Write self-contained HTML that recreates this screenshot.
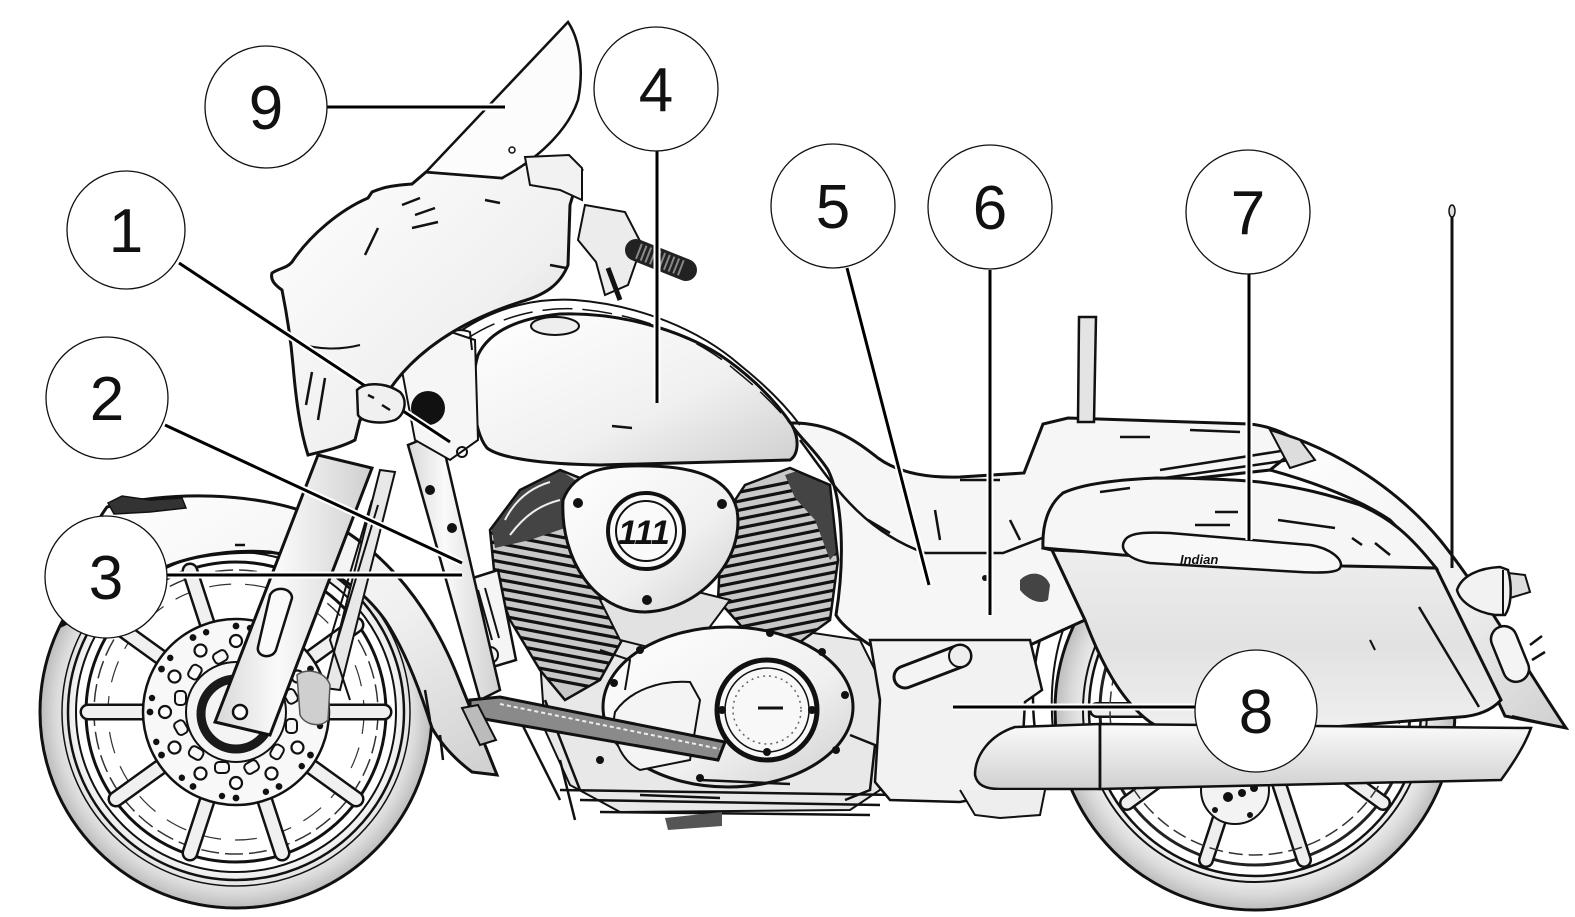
<!DOCTYPE html>
<html><head><meta charset="utf-8"><style>
html,body{margin:0;padding:0;background:#fff;}
svg{display:block}
text{font-family:"Liberation Sans",Arial,sans-serif}
</style></head><body>
<svg width="1575" height="917" viewBox="0 0 1575 917" xmlns="http://www.w3.org/2000/svg">
<defs>
<radialGradient id="tireF" cx="0.5" cy="0.5" r="0.5">
 <stop offset="0.83" stop-color="#f2f2f2"/><stop offset="0.92" stop-color="#dadada"/><stop offset="1" stop-color="#bcbcbc"/>
</radialGradient>
<linearGradient id="lg1" x1="0" y1="0" x2="1" y2="1">
 <stop offset="0" stop-color="#ffffff"/><stop offset="0.6" stop-color="#f0f0f0"/><stop offset="1" stop-color="#cfcfcf"/>
</linearGradient>
<linearGradient id="lgv" x1="0" y1="0" x2="0" y2="1">
 <stop offset="0" stop-color="#fbfbfb"/><stop offset="1" stop-color="#d0d0d0"/>
</linearGradient>
<linearGradient id="lgbag" x1="0" y1="0" x2="0" y2="1">
 <stop offset="0" stop-color="#eeeeee"/><stop offset="0.5" stop-color="#e2e2e2"/><stop offset="1" stop-color="#f0f0f0"/>
</linearGradient>
<linearGradient id="fork" x1="0" y1="0" x2="1" y2="0">
 <stop offset="0" stop-color="#d8d8d8"/><stop offset="0.4" stop-color="#fafafa"/><stop offset="1" stop-color="#cfcfcf"/>
</linearGradient>
<clipPath id="cylF"><polygon points="490,530 520,490 560,470 585,480 605,540 622,640 600,680 565,700 540,670 510,620 495,580"/></clipPath>
<clipPath id="cylR"><polygon points="722,520 745,485 790,468 830,485 838,560 830,620 800,642 750,636 718,600"/></clipPath>
<g id="hs">
 <circle cx="322" cy="712" r="3.4" fill="#111"/>
 <circle cx="320" cy="726" r="3.2" fill="#111"/>
 <circle cx="307" cy="712" r="6" fill="#fff" stroke="#111" stroke-width="2.2"/>
 <rect x="286" y="719" width="11" height="14" rx="4" fill="none" stroke="#111" stroke-width="2"/>
</g>
</defs>

<!-- ===== REAR WHEEL ===== -->
<g>
 <circle cx="1255" cy="710" r="200" fill="url(#tireF)" stroke="#111" stroke-width="3"/>
 <circle cx="1255" cy="710" r="172" fill="none" stroke="#111" stroke-width="2"/>
 <circle cx="1255" cy="710" r="166" fill="#fff" stroke="#111" stroke-width="2.5"/>
 <circle cx="1255" cy="710" r="155" fill="#fff" stroke="#222" stroke-width="3"/>
 <g stroke-linecap="round">
  <g stroke="#111" stroke-width="16">
   <line x1="1297" y1="710" x2="1413" y2="710"/><line x1="1289" y1="735" x2="1383" y2="803"/>
   <line x1="1268" y1="750" x2="1304" y2="860"/><line x1="1242" y1="750" x2="1206" y2="860"/>
   <line x1="1221" y1="735" x2="1127" y2="803"/><line x1="1213" y1="710" x2="1097" y2="710"/>
  </g>
  <g stroke="#eeeeee" stroke-width="11">
   <line x1="1297" y1="710" x2="1413" y2="710"/><line x1="1289" y1="735" x2="1383" y2="803"/>
   <line x1="1268" y1="750" x2="1304" y2="860"/><line x1="1242" y1="750" x2="1206" y2="860"/>
   <line x1="1221" y1="735" x2="1127" y2="803"/><line x1="1213" y1="710" x2="1097" y2="710"/>
  </g>
 </g>
 <circle cx="1255" cy="710" r="145" fill="none" stroke="#333" stroke-width="1.5" stroke-dasharray="14 6"/>
 <circle cx="1235" cy="790" r="34" fill="#f3f3f3" stroke="#111" stroke-width="2"/>
 <circle cx="1228" cy="797" r="5" fill="#111"/><circle cx="1242" cy="793" r="4" fill="#111"/><circle cx="1254" cy="788" r="4" fill="#111"/>
 <circle cx="1215" cy="810" r="3" fill="#111"/><circle cx="1250" cy="815" r="3" fill="#111"/>
 <path d="M1062,590 C1035,630 1025,690 1040,760" fill="none" stroke="#111" stroke-width="2.5"/>
 <path d="M1078,598 C1052,640 1046,700 1057,760" fill="none" stroke="#111" stroke-width="2"/>
</g>

<!-- ===== REAR FENDER ===== -->
<path d="M1270,430 C1340,450 1400,492 1440,540 C1482,592 1522,662 1566,728 L1505,716 L1436,568 L1390,520 C1360,500 1320,484 1270,470 Z" fill="url(#lg1)" stroke="#111" stroke-width="3"/>
<path d="M1512,716 L1566,728 L1548,700" fill="none" stroke="#111" stroke-width="2"/>

<!-- ===== REAR BODY / SEAT ===== -->
<path d="M790,423 C830,422 855,440 878,458 C900,474 930,478 960,477 L1024,473 L1043,424 L1068,418 L1250,424 C1275,427 1293,436 1300,446 L1270,470 L1063,493 L1043,548 L1052,550 L1085,620 L1030,645 L870,645 C850,632 840,622 836,615 C845,560 843,500 828,470 C815,450 800,438 790,423 Z" fill="#f6f6f6" stroke="#111" stroke-width="3"/>
<path d="M800,440 C830,480 860,530 925,553 L1003,553 L1050,535" fill="none" stroke="#111" stroke-width="2.5"/>
<path d="M1024,473 L1043,424" fill="none" stroke="#111" stroke-width="2.5"/>
<g stroke="#111" stroke-width="2.5" fill="none">
 <path d="M868,520 L890,533"/><path d="M935,510 L940,540"/><path d="M960,480 L1000,480"/><path d="M1120,437 L1150,437"/><path d="M1190,430 L1240,432"/>
 <path d="M1160,470 L1300,448"/><path d="M1150,480 L1290,460"/><path d="M1010,520 L1020,540"/>
</g>
<path d="M1270,430 L1300,440 L1315,460 L1290,468 Z" fill="#ddd" stroke="#111" stroke-width="2"/>
<!-- sissy bar -->
<path d="M1079,317 L1096,317 L1094,422 L1078,422 Z" fill="#e4e4e4" stroke="#111" stroke-width="2.5"/>

<!-- ===== FRONT WHEEL ===== -->
<g>
 <circle cx="236" cy="712" r="196" fill="url(#tireF)" stroke="#111" stroke-width="3"/>
 <circle cx="236" cy="712" r="174" fill="none" stroke="#111" stroke-width="1.5"/>
 <circle cx="236" cy="712" r="168" fill="none" stroke="#111" stroke-width="2.5"/>
 <circle cx="236" cy="712" r="160" fill="#fff" stroke="#111" stroke-width="2"/>
 <circle cx="236" cy="712" r="150" fill="#fff" stroke="#111" stroke-width="3"/>
 <circle cx="236" cy="712" r="142" fill="none" stroke="#333" stroke-width="1.5" stroke-dasharray="18 6"/>
 <circle cx="236" cy="712" r="128" fill="none" stroke="#333" stroke-width="1.2" stroke-dasharray="22 14"/>
 <g stroke-linecap="round">
  <g stroke="#111" stroke-width="17">
   <line x1="278" y1="712" x2="384" y2="712"/><line x1="270" y1="737" x2="356" y2="799"/>
   <line x1="249" y1="752" x2="282" y2="853"/><line x1="223" y1="752" x2="190" y2="853"/>
   <line x1="202" y1="737" x2="116" y2="799"/><line x1="194" y1="712" x2="88" y2="712"/>
   <line x1="202" y1="687" x2="116" y2="625"/><line x1="223" y1="672" x2="190" y2="571"/>
   <line x1="249" y1="672" x2="282" y2="571"/><line x1="270" y1="687" x2="356" y2="625"/>
  </g>
  <g stroke="#f0f0f0" stroke-width="12">
   <line x1="278" y1="712" x2="384" y2="712"/><line x1="270" y1="737" x2="356" y2="799"/>
   <line x1="249" y1="752" x2="282" y2="853"/><line x1="223" y1="752" x2="190" y2="853"/>
   <line x1="202" y1="737" x2="116" y2="799"/><line x1="194" y1="712" x2="88" y2="712"/>
   <line x1="202" y1="687" x2="116" y2="625"/><line x1="223" y1="672" x2="190" y2="571"/>
   <line x1="249" y1="672" x2="282" y2="571"/><line x1="270" y1="687" x2="356" y2="625"/>
  </g>
 </g>
 <!-- disc -->
 <circle cx="236" cy="712" r="93" fill="#f8f8f8" stroke="#111" stroke-width="2.5"/>
 <use href="#hs"/>
 <use href="#hs" transform="rotate(30 236 712)"/><use href="#hs" transform="rotate(60 236 712)"/>
 <use href="#hs" transform="rotate(90 236 712)"/><use href="#hs" transform="rotate(120 236 712)"/>
 <use href="#hs" transform="rotate(150 236 712)"/><use href="#hs" transform="rotate(180 236 712)"/>
 <use href="#hs" transform="rotate(210 236 712)"/><use href="#hs" transform="rotate(240 236 712)"/>
 <use href="#hs" transform="rotate(270 236 712)"/><use href="#hs" transform="rotate(300 236 712)"/>
 <use href="#hs" transform="rotate(330 236 712)"/>
 <circle cx="236" cy="712" r="50" fill="#f4f4f4" stroke="#111" stroke-width="2"/>
 <circle cx="236" cy="714" r="35" fill="none" stroke="#1a1a1a" stroke-width="9"/>
</g>

<!-- front fender -->
<path d="M63,625 C75,570 90,530 107,507 C160,492 260,488 330,522 C390,555 430,610 455,670 L497,775 L472,772 C452,757 440,742 432,728 C420,690 405,650 385,620 C360,585 320,560 270,552 C220,548 170,560 140,580 C110,600 85,615 63,625 Z" fill="url(#lg1)" stroke="#111" stroke-width="3"/>
<path d="M108,503 L122,496 L150,500 L182,498 L186,508 L150,512 L114,514 Z" fill="#333" stroke="#111" stroke-width="1.5"/>
<path d="M170,565 C210,550 270,550 316,557" fill="none" stroke="#111" stroke-width="2.5"/>
<g stroke="#111" stroke-width="2.5"><line x1="425" y1="690" x2="430" y2="720"/><line x1="440" y1="735" x2="443" y2="760"/><line x1="235" y1="545" x2="245" y2="545"/></g>

<!-- ===== ENGINE ===== -->
<path d="M540,660 L600,615 L660,625 L700,640 L760,625 L860,640 L885,690 L880,790 L850,810 L620,812 L570,785 L545,730 Z" fill="#e8e8e8" stroke="#111" stroke-width="2"/>
<!-- front cylinder -->
<g clip-path="url(#cylF)">
 <rect x="480" y="460" width="150" height="250" fill="#c8c8c8"/>
 <g stroke="#111" stroke-width="3.2">
  <line x1="470" y1="520" x2="640" y2="552"/><line x1="470" y1="529" x2="640" y2="561"/><line x1="470" y1="538" x2="640" y2="570"/>
  <line x1="470" y1="547" x2="640" y2="579"/><line x1="470" y1="556" x2="640" y2="588"/><line x1="470" y1="565" x2="640" y2="597"/>
  <line x1="470" y1="574" x2="640" y2="606"/><line x1="470" y1="583" x2="640" y2="615"/><line x1="470" y1="592" x2="640" y2="624"/>
  <line x1="470" y1="601" x2="640" y2="633"/><line x1="470" y1="610" x2="640" y2="642"/><line x1="470" y1="619" x2="640" y2="651"/>
  <line x1="470" y1="628" x2="640" y2="660"/><line x1="470" y1="637" x2="640" y2="669"/><line x1="470" y1="646" x2="640" y2="678"/>
  <line x1="470" y1="655" x2="640" y2="687"/><line x1="470" y1="664" x2="640" y2="696"/>
 </g>
 <path d="M490,520 L505,490 L535,472 L560,470 L578,482 L565,528 L530,540 L495,548 Z" fill="#444"/>
 <g stroke="#eee" stroke-width="2" fill="none"><path d="M505,520 C515,500 530,488 550,482"/><path d="M510,535 C525,515 540,505 560,500"/></g>
</g>
<polygon points="490,530 520,490 560,470 585,480 605,540 622,640 600,680 565,700 540,670 510,620 495,580" fill="none" stroke="#111" stroke-width="2.5"/>
<!-- rear cylinder -->
<g clip-path="url(#cylR)">
 <rect x="710" y="460" width="140" height="200" fill="#c8c8c8"/>
 <g stroke="#111" stroke-width="3.2">
  <line x1="700" y1="500" x2="850" y2="470"/><line x1="700" y1="509" x2="850" y2="479"/><line x1="700" y1="518" x2="850" y2="488"/>
  <line x1="700" y1="527" x2="850" y2="497"/><line x1="700" y1="536" x2="850" y2="506"/><line x1="700" y1="545" x2="850" y2="515"/>
  <line x1="700" y1="554" x2="850" y2="524"/><line x1="700" y1="563" x2="850" y2="533"/><line x1="700" y1="572" x2="850" y2="542"/>
  <line x1="700" y1="581" x2="850" y2="551"/><line x1="700" y1="590" x2="850" y2="560"/><line x1="700" y1="599" x2="850" y2="569"/>
  <line x1="700" y1="608" x2="850" y2="578"/><line x1="700" y1="617" x2="850" y2="587"/><line x1="700" y1="626" x2="850" y2="596"/>
  <line x1="700" y1="635" x2="850" y2="605"/><line x1="700" y1="644" x2="850" y2="614"/><line x1="700" y1="653" x2="850" y2="623"/>
 </g>
 <path d="M785,475 L815,465 L840,490 L842,545 L830,560 L815,520 L795,498 Z" fill="#444"/>
</g>
<polygon points="722,520 745,485 790,468 830,485 838,560 830,620 800,642 750,636 718,600" fill="none" stroke="#111" stroke-width="2.5"/>
<!-- V block -->
<path d="M600,600 L640,585 L690,590 L730,600 L700,640 L660,650 L620,640 Z" fill="#e2e2e2" stroke="#111" stroke-width="2"/>
<!-- air cleaner -->
<path d="M563,500 C575,468 610,465 650,466 C700,467 730,480 737,510 C745,560 700,610 645,612 C595,612 560,560 563,500 Z" fill="url(#lg1)" stroke="#111" stroke-width="3"/>
<circle cx="646" cy="531" r="38" fill="#fafafa" stroke="#111" stroke-width="4"/>
<circle cx="646" cy="531" r="30" fill="none" stroke="#111" stroke-width="2"/>
<text x="644" y="544" font-size="34" font-weight="bold" font-style="italic" text-anchor="middle" fill="#111">111</text>
<circle cx="578" cy="503" r="5" fill="#111"/><circle cx="722" cy="504" r="5" fill="#111"/><circle cx="647" cy="600" r="5" fill="#111"/>
<!-- regulator / oil cooler -->
<path d="M457,583 L498,570 L516,660 L476,672 Z" fill="#f5f5f5" stroke="#111" stroke-width="2.5"/>
<g stroke="#111" stroke-width="2"><line x1="478" y1="590" x2="492" y2="640"/><line x1="485" y1="588" x2="499" y2="638"/><line x1="471" y1="592" x2="485" y2="642"/></g>
<circle cx="490" cy="655" r="8" fill="#f0f0f0" stroke="#111" stroke-width="2"/>
<!-- primary cover -->
<ellipse cx="728" cy="707" rx="125" ry="80" fill="url(#lg1)" stroke="#111" stroke-width="3"/>
<path d="M615,712 C630,690 660,680 690,682 L700,700 L690,760 L640,770 C620,760 610,735 615,712 Z" fill="#f4f4f4" stroke="#111" stroke-width="2"/>
<circle cx="767" cy="710" r="50" fill="#f8f8f8" stroke="#111" stroke-width="5"/>
<circle cx="767" cy="710" r="42" fill="none" stroke="#111" stroke-width="1.5"/>
<circle cx="767" cy="710" r="34" fill="none" stroke="#666" stroke-width="1.5" stroke-dasharray="2 4"/>
<line x1="758" y1="708" x2="783" y2="708" stroke="#111" stroke-width="3"/>
<g fill="#111"><circle cx="722" cy="710" r="4"/><circle cx="812" cy="710" r="4"/><circle cx="767" cy="752" r="4"/><circle cx="770" cy="633" r="4"/><circle cx="822" cy="652" r="4"/><circle cx="845" cy="695" r="4"/><circle cx="836" cy="750" r="4"/><circle cx="640" cy="650" r="4"/><circle cx="614" cy="683" r="4"/><circle cx="700" cy="778" r="4"/><circle cx="600" cy="760" r="4"/></g>
<path d="M850,735 L875,745 L870,790 L845,800" fill="none" stroke="#111" stroke-width="2.5"/>
<path d="M600,650 L630,660 L625,690" fill="none" stroke="#111" stroke-width="2"/>
<!-- under engine -->
<g stroke="#111" stroke-width="2.5" fill="none">
 <path d="M560,790 L900,795"/><path d="M580,800 L880,805"/><path d="M600,812 L870,815"/>
 <path d="M670,825 L720,822"/><path d="M560,760 L575,820"/><path d="M520,720 L560,800"/>
 <path d="M640,795 L720,798"/><path d="M545,700 L580,790"/><path d="M700,780 L790,784"/>
</g>
<path d="M665,818 L722,812 L722,826 L668,830 Z" fill="#555"/>
<!-- frame downtube -->
<path d="M408,445 L440,432 L500,690 L480,700 Z" fill="url(#fork)" stroke="#111" stroke-width="2.5"/>
<circle cx="430" cy="490" r="5" fill="#111"/><circle cx="452" cy="528" r="5" fill="#111"/>

<!-- ===== FORK ===== -->
<path d="M380,470 L395,472 L340,690 L325,688 Z" fill="#e8e8e8" stroke="#111" stroke-width="2"/>
<path d="M318,455 L372,468 L270,735 L215,722 Z" fill="url(#fork)" stroke="#111" stroke-width="3"/>
<path d="M270,595 C275,585 292,588 292,598 L276,650 C272,660 256,657 258,647 Z" fill="#fafafa" stroke="#111" stroke-width="2.5"/>
<circle cx="240" cy="712" r="7" fill="#fff" stroke="#111" stroke-width="2.5"/>
<path d="M297,675 C305,668 325,670 330,685 L328,720 C320,728 305,725 300,715 Z" fill="#cfcfcf" stroke="#555" stroke-width="1.5"/>
<g stroke="#111" stroke-width="2" fill="none"><path d="M372,500 L330,640 L350,700"/><path d="M378,505 L336,645"/></g>

<!-- ===== TANK ===== -->
<path d="M478,355 C490,330 520,318 560,314 C620,312 680,330 720,355 C750,375 775,400 792,425 C800,440 798,455 790,460 L600,465 C540,464 500,458 487,448 C472,430 470,380 478,355 Z" fill="url(#lg1)" stroke="#111" stroke-width="3"/>
<path d="M462,330 C500,305 540,298 575,300 C640,305 700,330 740,365 C765,385 785,405 800,425" fill="none" stroke="#111" stroke-width="2"/>
<path d="M468,338 C505,314 545,307 578,309 C640,314 698,338 735,370 C760,390 780,410 795,430" fill="none" stroke="#111" stroke-width="1.5" stroke-dasharray="30 10"/>
<ellipse cx="555" cy="326" rx="24" ry="9" fill="#eee" stroke="#111" stroke-width="2"/>
<line x1="612" y1="426" x2="632" y2="428" stroke="#111" stroke-width="2.5"/>
<!-- neck -->
<path d="M400,360 L445,330 L475,340 L478,440 L450,460 L415,440 Z" fill="#f6f6f6" stroke="#111" stroke-width="2"/>
<circle cx="428" cy="408" r="17" fill="#111"/>
<circle cx="462" cy="452" r="5" fill="none" stroke="#111" stroke-width="2"/>
<path d="M440,340 C450,330 460,328 470,332 L472,350" fill="none" stroke="#111" stroke-width="2"/>

<!-- ===== FAIRING ===== -->
<path d="M426,172 L502,178 L520,165 L569,156 L582,170 L576,185 L570,205 L568,265 C560,285 545,295 520,302 C480,315 440,335 410,365 C395,380 385,395 378,410 L360,420 L355,440 C340,448 320,452 308,455 C300,430 296,400 293,365 C290,330 285,305 282,290 C275,285 270,280 272,273 C280,268 287,268 292,262 C310,235 340,210 368,198 L372,192 C385,186 400,185 412,184 Z" fill="url(#lg1)" stroke="#111" stroke-width="3"/>
<path d="M296,343 C320,350 340,350 360,345" fill="none" stroke="#111" stroke-width="2"/>
<g stroke="#111" stroke-width="2.5">
 <line x1="312" y1="372" x2="306" y2="405"/><line x1="325" y1="378" x2="318" y2="420"/>
 <line x1="402" y1="205" x2="420" y2="198"/><line x1="415" y1="215" x2="435" y2="208"/><line x1="485" y1="200" x2="500" y2="203"/>
 <line x1="412" y1="228" x2="438" y2="222"/><line x1="378" y1="228" x2="365" y2="255"/><line x1="550" y1="265" x2="566" y2="268"/>
</g>
<!-- windshield -->
<path d="M426,172 L568,22 C580,40 584,70 578,100 C570,125 545,155 502,178 Z" fill="#fcfcfc" stroke="#111" stroke-width="2.5"/>
<circle cx="512" cy="150" r="3" fill="none" stroke="#111" stroke-width="1.5"/>
<path d="M525,157 L569,155 L582,168 L582,200 L560,190 L530,185 Z" fill="#f2f2f2" stroke="#111" stroke-width="2"/>
<!-- controls -->
<path d="M585,205 L625,212 L642,245 L628,285 L605,295 L596,262 L578,240 Z" fill="#ececec" stroke="#111" stroke-width="2"/>
<path d="M608,268 L620,300" stroke="#111" stroke-width="5"/>
<line x1="636" y1="250" x2="686" y2="270" stroke="#222" stroke-width="22" stroke-linecap="round"/>
<line x1="638" y1="251" x2="684" y2="269" stroke="#888" stroke-width="16" stroke-dasharray="2 3"/>

<!-- ===== SIDE COVER & PEG ===== -->
<path d="M870,640 L1030,640 L1042,690 L1025,702 L1020,790 L960,802 L890,800 L875,782 L880,700 Z" fill="#f2f2f2" stroke="#111" stroke-width="2.5"/>
<path d="M1020,580 C1030,570 1045,572 1050,585 L1048,600 C1040,605 1028,600 1020,590 Z" fill="#444"/>
<line x1="905" y1="677" x2="960" y2="656" stroke="#111" stroke-width="25" stroke-linecap="round"/>
<line x1="905" y1="677" x2="960" y2="656" stroke="#f4f4f4" stroke-width="19" stroke-linecap="round"/>
<circle cx="960" cy="656" r="11" fill="#eee" stroke="#111" stroke-width="2"/>
<circle cx="985" cy="578" r="3" fill="#111"/>

<!-- ===== SADDLEBAG ===== -->
<path d="M1052,550 L1436,568 L1501,700 C1490,712 1475,716 1460,717 L1230,735 C1200,740 1170,735 1150,722 C1120,700 1100,660 1085,620 Z" fill="url(#lgbag)" stroke="#111" stroke-width="3"/>
<path d="M1419,607 L1479,707" stroke="#111" stroke-width="2.5"/>
<path d="M1370,640 L1375,650" stroke="#111" stroke-width="2"/>
<path d="M1043,548 C1042,525 1048,505 1063,493 C1080,485 1110,480 1156,478 C1200,478 1240,480 1260,482 C1300,487 1330,495 1360,505 C1390,518 1410,535 1436,568 L1343,566 L1122,555 Z" fill="#f6f6f6" stroke="#111" stroke-width="3"/>
<g stroke="#111" stroke-width="2.5">
 <line x1="1215" y1="512" x2="1238" y2="512"/><line x1="1278" y1="520" x2="1335" y2="528"/><line x1="1352" y1="538" x2="1362" y2="545"/>
 <line x1="1375" y1="543" x2="1390" y2="555"/><line x1="1100" y1="492" x2="1130" y2="488"/><line x1="1195" y1="525" x2="1230" y2="525"/>
</g>
<path d="M1125,540 C1130,532 1150,532 1170,533 L1310,545 C1330,548 1345,560 1340,568 C1337,573 1320,573 1300,572 L1150,563 C1130,560 1118,550 1125,540 Z" fill="#f8f8f8" stroke="#111" stroke-width="2.5"/>
<text x="1180" y="564" font-size="13" font-weight="bold" font-style="italic" fill="#111" font-family="Liberation Serif, serif">Indian</text>

<!-- ===== EXHAUST ===== -->
<path d="M1100,724 L1015,727 C990,735 975,755 975,775 C977,785 985,789 1000,789 L1100,789 Z" fill="url(#lgv)" stroke="#111" stroke-width="2.5"/>
<path d="M1100,724 L1531,728 C1525,745 1512,765 1501,780 L1100,789 Z" fill="url(#lgv)" stroke="#111" stroke-width="2.5"/>
<line x1="1100" y1="724" x2="1100" y2="789" stroke="#111" stroke-width="2.5"/>
<path d="M960,790 L975,815 L1000,818 L1040,815 L1045,790" fill="#eee" stroke="#111" stroke-width="2"/>

<!-- ===== REAR LIGHTS / ANTENNA ===== -->
<line x1="1452" y1="210" x2="1452" y2="568" stroke="#111" stroke-width="3"/>
<ellipse cx="1452" cy="211" rx="3" ry="6" fill="#ddd" stroke="#111" stroke-width="1.5"/>
<path d="M1500,572 L1525,575 L1530,592 L1510,598 Z" fill="#ddd" stroke="#111" stroke-width="2"/>
<path d="M1457,590 C1462,575 1480,568 1500,567 L1508,570 C1512,585 1512,605 1505,615 L1495,615 C1475,612 1460,602 1457,590 Z" fill="#f2f2f2" stroke="#111" stroke-width="2.5"/>
<line x1="1503" y1="570" x2="1503" y2="614" stroke="#111" stroke-width="2"/>
<rect x="1497" y="625" width="26" height="58" rx="13" fill="#f4f4f4" stroke="#111" stroke-width="2.5" transform="rotate(-22 1510 654)"/>
<g stroke="#111" stroke-width="2.5"><line x1="1530" y1="645" x2="1542" y2="636"/><line x1="1532" y1="660" x2="1545" y2="652"/></g>

<!-- ===== FLOORBOARD ===== -->
<path d="M470,700 L500,697 L725,742 L718,760 L490,720 L470,716 Z" fill="#8a8a8a" stroke="#111" stroke-width="3"/>
<path d="M500,704 L720,749" stroke="#eee" stroke-width="2" stroke-dasharray="4 3"/>
<path d="M478,705 L462,708 L480,745 L496,740 Z" fill="#bbb" stroke="#111" stroke-width="2"/>

<!-- ===== CALLOUT LINES ===== -->
<g stroke-linecap="butt">
 <g stroke="#fff" stroke-width="7">
  <line x1="327" y1="107" x2="505" y2="107"/><line x1="657" y1="151" x2="657" y2="403"/>
  <line x1="179" y1="263" x2="450" y2="442"/><line x1="165" y1="425" x2="462" y2="563"/>
  <line x1="167" y1="575" x2="462" y2="575"/><line x1="847" y1="268" x2="929" y2="585"/>
  <line x1="990" y1="270" x2="990" y2="615"/><line x1="1249" y1="274" x2="1249" y2="540"/>
  <line x1="953" y1="707" x2="1195" y2="707"/>
 </g>
 <g stroke="#000" stroke-width="3">
  <line x1="327" y1="107" x2="505" y2="107"/><line x1="657" y1="151" x2="657" y2="403"/>
  <line x1="179" y1="263" x2="450" y2="442"/><line x1="165" y1="425" x2="462" y2="563"/>
  <line x1="167" y1="575" x2="462" y2="575"/><line x1="847" y1="268" x2="929" y2="585"/>
  <line x1="990" y1="270" x2="990" y2="615"/><line x1="1249" y1="274" x2="1249" y2="540"/>
  <line x1="953" y1="707" x2="1195" y2="707"/>
 </g>
</g>
<!-- turn signal (over line 1) -->
<path d="M357,390 C365,382 385,382 400,392 C408,400 405,415 395,420 C380,425 362,422 358,415 Z" fill="#f0f0f0" stroke="#111" stroke-width="2.5"/>
<g stroke="#111" stroke-width="2.5"><line x1="368" y1="395" x2="374" y2="398"/><line x1="382" y1="405" x2="390" y2="410"/></g>

<!-- ===== CALLOUT CIRCLES ===== -->
<g fill="#fff" stroke="#111" stroke-width="1.3">
 <circle cx="266" cy="107" r="61"/><circle cx="656" cy="89" r="62"/>
 <circle cx="126" cy="230" r="59"/><circle cx="107" cy="398" r="61"/>
 <circle cx="106" cy="577" r="61"/><circle cx="833" cy="206" r="62"/>
 <circle cx="990" cy="207" r="62"/><circle cx="1248" cy="212" r="62"/>
 <circle cx="1256" cy="711" r="61"/>
</g>
<g font-size="62" text-anchor="middle" fill="#111">
 <text x="266" y="129">9</text><text x="656" y="111">4</text>
 <text x="126" y="252">1</text><text x="107" y="420">2</text>
 <text x="106" y="599">3</text><text x="833" y="228">5</text>
 <text x="990" y="229">6</text><text x="1248" y="234">7</text>
 <text x="1256" y="733">8</text>
</g>
</svg>
</body></html>
